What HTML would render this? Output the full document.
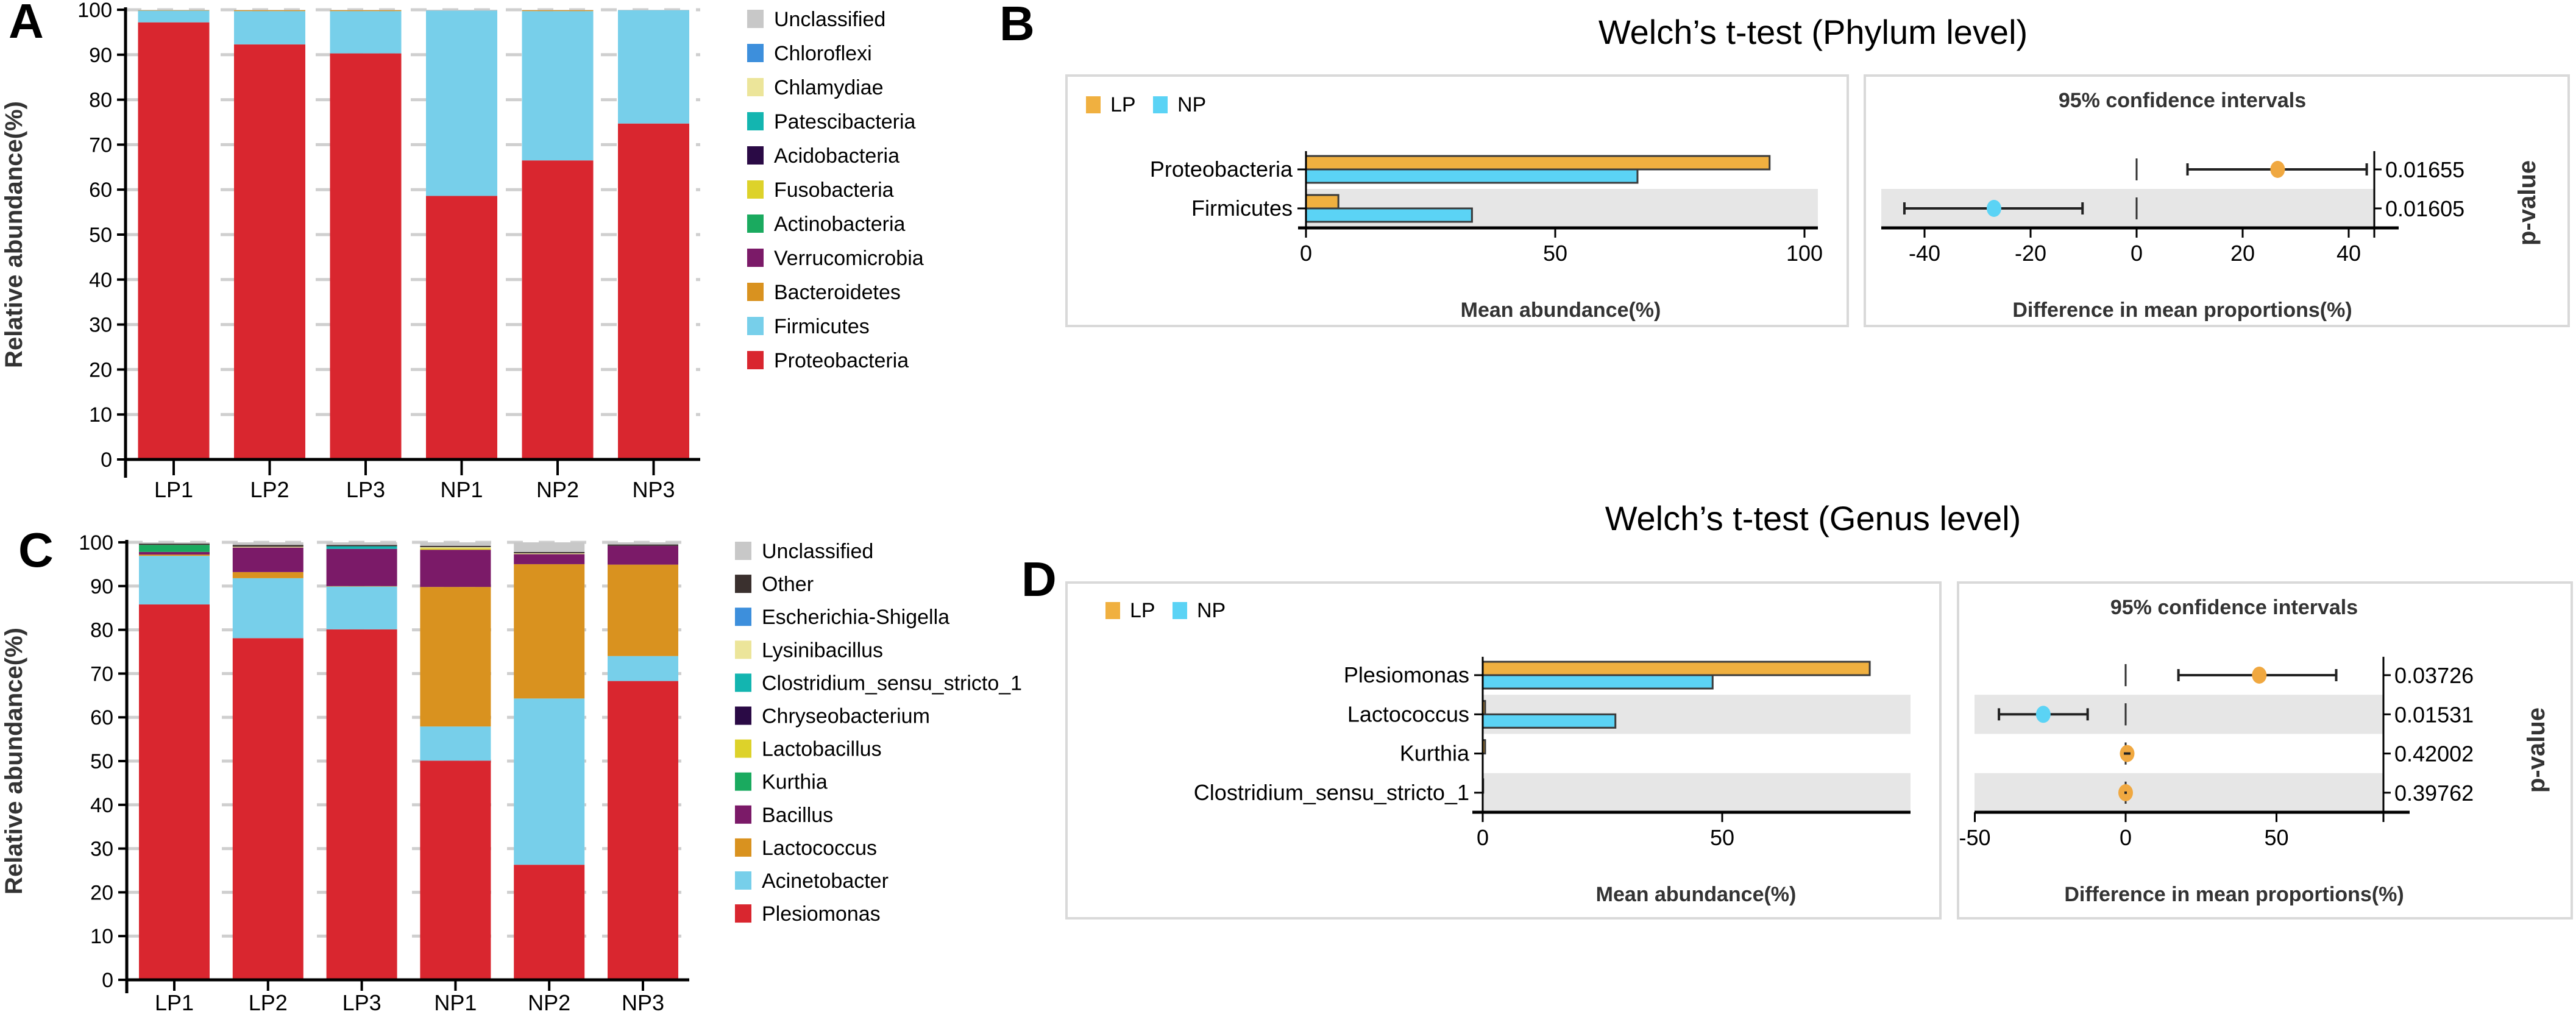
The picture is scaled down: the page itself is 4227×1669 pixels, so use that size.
<!DOCTYPE html>
<html><head><meta charset="utf-8">
<style>
html,body{margin:0;padding:0;background:#fff;}
svg{display:block;font-family:"Liberation Sans",Arial,sans-serif;}
</style></head>
<body>
<svg id="fig" width="4227" height="1669" viewBox="0 0 4227 1669" xmlns="http://www.w3.org/2000/svg">
<text x="14" y="62" font-size="80" font-weight="bold">A</text>
<text x="1640" y="66" font-size="80" font-weight="bold">B</text>
<text x="30" y="930" font-size="80" font-weight="bold">C</text>
<text x="1676" y="978" font-size="80" font-weight="bold">D</text>
<text x="2975" y="72" font-size="56" text-anchor="middle">Welch’s t-test (Phylum level)</text>
<text x="2975" y="870" font-size="56" text-anchor="middle">Welch’s t-test (Genus level)</text>
<g id="root"></g>
</svg>
<script>
// ---------- Panel A data ----------
const samplesA = ["LP1","LP2","LP3","NP1","NP2","NP3"];
const phylaA = ["Proteobacteria","Firmicutes","Bacteroidetes","Verrucomicrobia","Actinobacteria","Fusobacteria","Acidobacteria","Patescibacteria","Chlamydiae","Chloroflexi","Unclassified"];
const phylaColorsA = ["#d9262f","#77cfea","#d9921f","#7b1a68","#1aaa5f","#ddd22a","#2a0a45","#13b5b0","#ece59a","#3d8fdc","#c8c8c8"];
const valuesA = [
 [97.2,92.3,90.3,58.6,66.5,74.7],
 [2.6,7.4,9.4,41.2,33.2,25.2],
 [0.1,0.2,0.2,0,0.2,0],
 [0,0,0,0,0,0],[0,0,0,0,0,0],[0,0,0,0,0,0],[0,0,0,0,0,0],[0,0,0,0,0,0],[0,0,0,0,0,0],[0,0,0,0,0,0],
 [0.1,0.1,0.1,0.2,0.1,0.1]
];
// ---------- Panel C data ----------
const samplesC = ["LP1","LP2","LP3","NP1","NP2","NP3"];
const generaC = ["Plesiomonas","Acinetobacter","Lactococcus","Bacillus","Kurthia","Lactobacillus","Chryseobacterium","Clostridium_sensu_stricto_1","Lysinibacillus","Escherichia-Shigella","Other","Unclassified"];
const generaColorsC = ["#d9262f","#77cfea","#d9921f","#7b1a68","#1aaa5f","#ddd22a","#2a0a45","#13b5b0","#ece59a","#3d8fdc","#3a302e","#c8c8c8"];
const valuesC = [
 [85.8,78.1,80.1,50.1,26.3,68.3],
 [11.1,13.7,9.8,7.8,38.0,5.7],
 [0.3,1.4,0.1,31.9,30.7,20.9],
 [0.6,5.6,8.5,8.5,2.3,4.3],
 [1.6,0,0,0,0,0],
 [0,0,0,0.3,0,0],
 [0,0,0,0,0,0],
 [0,0,0.6,0,0,0],
 [0,0.2,0,0.3,0.2,0],
 [0,0,0,0,0,0],
 [0.3,0.4,0.3,0.3,0.3,0.3],
 [0.3,0.6,0.6,0.8,2.2,0.5]
];
const yTicks = [0,10,20,30,40,50,60,70,80,90,100];
// ---------- Panel B data ----------
const taxaB = ["Proteobacteria","Firmicutes"];
const lpMeanB = [93.0,6.5];
const npMeanB = [66.5,33.3];
const diffB = [26.6,-26.9];
const ciLowB = [9.6,-43.8];
const ciHighB = [43.4,-10.2];
const pB = ["0.01655","0.01605"];
const barTicksB = [0,50,100];
const diffTicksB = [-40,-20,0,20,40];
// ---------- Panel D data ----------
const taxaD = ["Plesiomonas","Lactococcus","Kurthia","Clostridium_sensu_stricto_1"];
const lpMeanD = [80.8,0.5,0.5,0.1];
const npMeanD = [48.0,27.7,0,0];
const diffD = [44.3,-27.3,0.5,0];
const ciLowD = [17.5,-42.0,-0.6,-0.4];
const ciHighD = [69.8,-12.6,1.6,0.4];
const pD = ["0.03726","0.01531","0.42002","0.39762"];
const barTicksD = [0,50];
const diffTicksD = [-50,0,50];

const NS="http://www.w3.org/2000/svg";
const root=document.getElementById('root');
function mk(tag,attrs,parent,text){const e=document.createElementNS(NS,tag);for(const k in attrs)e.setAttribute(k,attrs[k]);if(text!==undefined)e.textContent=text;(parent||root).appendChild(e);return e;}

function stacked(cfg){
  const g=mk('g',{});
  
  
  const y=v=>cfg.y0-(cfg.y0-cfg.y100)*v/100;
  const xc=i=>cfg.x0+cfg.step*i;
  yTicks.forEach(t=>{
    const l=mk('line',{x1:cfg.axisX,x2:cfg.axisEnd,y1:y(t),y2:y(t),stroke:'#cfcfcf','stroke-width':5,'stroke-dasharray':'26 26'},g);
    
    
  });
  cfg.samples.forEach((s,i)=>{
    let acc=0;
    cfg.values.forEach((ser,k)=>{
      const v=ser[i]; if(v<=0){return;}
      const r=mk('rect',{x:xc(i)-cfg.bw/2,y:y(acc+v),width:cfg.bw,height:y(acc)-y(acc+v),fill:cfg.colors[k]},g);
      
      
      acc+=v;
    });
    const tk=mk('line',{x1:xc(i),x2:xc(i),y1:cfg.y0,y2:cfg.y0+cfg.tickLen,stroke:'#000','stroke-width':4},g);
    
    
    const tl=mk('text',{x:xc(i),y:cfg.y0+cfg.labOff,'font-size':36,'text-anchor':'middle'},g,s);
    
    
  });
  mk('line',{x1:cfg.axisX,x2:cfg.axisX,y1:y(100)-4,y2:cfg.y0+cfg.tickLen+4,stroke:'#000','stroke-width':5},g);
  mk('line',{x1:cfg.axisX-2,x2:cfg.axisEnd,y1:cfg.y0,y2:cfg.y0,stroke:'#000','stroke-width':5},g);
  yTicks.forEach(t=>{
    mk('line',{x1:cfg.axisX-14,x2:cfg.axisX,y1:y(t),y2:y(t),stroke:'#000','stroke-width':4},g);
    const tl=mk('text',{x:cfg.axisX-22,y:y(t)+12,'font-size':34,'text-anchor':'end'},g,t);
    
    
  });
  const yt=mk('text',{x:0,y:0,'font-size':40,'font-weight':'bold','text-anchor':'middle',fill:'#333',transform:`translate(${cfg.titleX},${(cfg.y0+y(100))/2}) rotate(-90)`},g,'Relative abundance(%)');
  
  
  const n=cfg.labels.length;
  for(let j=0;j<n;j++){
    const k=n-1-j; const cy=cfg.legY+cfg.legStep*j;
    const sw=mk('rect',{x:cfg.legX,y:cy-15,width:27,height:30,fill:cfg.colors[k]},g);
    
    
    const lt=mk('text',{x:cfg.legX+44,y:cy+12,'font-size':34},g,cfg.labels[k]);
    
    
  }
}
stacked({name:'panel-a-stacked-chart',samples:samplesA,values:valuesA,colors:phylaColorsA,labels:phylaA,y0:754,y100:16,x0:285,step:157.5,bw:117,axisX:206,axisEnd:1149,titleX:36,legX:1226,legY:31,legStep:56,tickLen:26,labOff:62});
stacked({name:'panel-c-stacked-chart',samples:samplesC,values:valuesC,colors:generaColorsC,labels:generaC,y0:1608,y100:890,x0:286,step:153.8,bw:116,axisX:208,axisEnd:1131,titleX:36,legX:1206,legY:904,legStep:54.1,tickLen:18,labOff:50});

function ttest(cfg){
  const g=mk('g',{});
  
  
  [[cfg.lb],[cfg.rb]].forEach(([b])=>{
    const r=mk('rect',{x:b[0],y:cfg.boxTop,width:b[1]-b[0],height:cfg.boxBot-cfg.boxTop,fill:'none',stroke:'#d9d9d9','stroke-width':4},g);
    
    
  });
  const l1=mk('rect',{x:cfg.legX,y:cfg.legY,width:24,height:28,fill:'#f0b040'},g);
   
  const t1=mk('text',{x:cfg.legX+40,y:cfg.legY+25,'font-size':34},g,'LP');
   
  const l2=mk('rect',{x:cfg.legX+110,y:cfg.legY,width:24,height:28,fill:'#5bd3f5'},g);
   
  const t2=mk('text',{x:cfg.legX+150,y:cfg.legY+25,'font-size':34},g,'NP');
   
  const bx=v=>cfg.bx0+cfg.bpx*v;
  const dx=v=>cfg.dx0+cfg.dpx*v;
  const rowY=i=>cfg.row0+cfg.rowStep*i;
  const half=cfg.rowStep/2;
  cfg.taxa.forEach((t,i)=>{
    if(i%2===1){
      mk('rect',{x:cfg.bx0,y:rowY(i)-half,width:cfg.bandEndL-cfg.bx0,height:cfg.rowStep,fill:'#e6e6e6'},g);
      mk('rect',{x:cfg.dAxisL,y:rowY(i)-half,width:cfg.pAxisX-cfg.dAxisL,height:cfg.rowStep,fill:'#e6e6e6'},g);
    }
  });
  const axisY=rowY(cfg.taxa.length-1)+half;
  const topY=rowY(0)-half+2;
  cfg.taxa.forEach((t,i)=>{
    const cy=rowY(i);
    const bh=cfg.barH;
    const lp=mk('rect',{x:bx(0),y:cy-bh,width:bx(cfg.lp[i])-bx(0),height:bh,fill:'#f0b040',stroke:'#3a3a3a','stroke-width':3},g);
    
    
    if(cfg.np[i]>0){
      const np=mk('rect',{x:bx(0),y:cy,width:bx(cfg.np[i])-bx(0),height:bh,fill:'#5bd3f5',stroke:'#3a3a3a','stroke-width':3},g);
      
      
    }
    mk('line',{x1:bx(0)-14,x2:bx(0),y1:cy,y2:cy,stroke:'#000','stroke-width':3},g);
    const cl=mk('text',{x:bx(0)-22,y:cy+12,'font-size':36,'text-anchor':'end'},g,t);
    
    
    mk('line',{x1:dx(0),x2:dx(0),y1:cy-half+14,y2:cy+half-14,stroke:'#333','stroke-width':3},g);
    const ci=mk('line',{x1:dx(cfg.lo[i]),x2:dx(cfg.hi[i]),y1:cy,y2:cy,stroke:'#222','stroke-width':4},g);
    
    
    [cfg.lo[i],cfg.hi[i]].forEach(v=>mk('line',{x1:dx(v),x2:dx(v),y1:cy-10,y2:cy+10,stroke:'#222','stroke-width':4},g));
    const col=cfg.diff[i]>=0?'#f0a840':'#5bd3f5';
    const pt=mk('ellipse',{cx:dx(cfg.diff[i]),cy:cy,rx:12,ry:14,fill:col},g);
    
    
    if(Math.abs(cfg.hi[i]-cfg.lo[i])<3) mk('line',{x1:dx(cfg.lo[i]),x2:dx(cfg.hi[i]),y1:cy,y2:cy,stroke:'#222','stroke-width':4},g);
    mk('line',{x1:cfg.pAxisX,x2:cfg.pAxisX+12,y1:cy,y2:cy,stroke:'#000','stroke-width':3},g);
    const pl=mk('text',{x:cfg.pAxisX+18,y:cy+13,'font-size':36},g,cfg.p[i]);
    
    
  });
  mk('line',{x1:bx(0),x2:bx(0),y1:topY,y2:axisY+14,stroke:'#000','stroke-width':3},g);
  mk('line',{x1:cfg.bAxisL,x2:cfg.bandEndL,y1:axisY,y2:axisY,stroke:'#000','stroke-width':5},g);
  cfg.bTicks.forEach(t=>{
    mk('line',{x1:bx(t),x2:bx(t),y1:axisY,y2:axisY+16,stroke:'#000','stroke-width':3},g);
    const tl=mk('text',{x:bx(t),y:axisY+54,'font-size':36,'text-anchor':'middle'},g,t);
     
  });
  mk('line',{x1:cfg.dAxisL,x2:cfg.dAxisR,y1:axisY,y2:axisY,stroke:'#000','stroke-width':5},g);
  mk('line',{x1:cfg.pAxisX,x2:cfg.pAxisX,y1:topY,y2:axisY+16,stroke:'#000','stroke-width':3},g);
  cfg.dTicks.forEach(t=>{
    mk('line',{x1:dx(t),x2:dx(t),y1:axisY,y2:axisY+16,stroke:'#000','stroke-width':3},g);
    const tl=mk('text',{x:dx(t),y:axisY+54,'font-size':36,'text-anchor':'middle'},g,t);
     
  });
  const lcx=(cfg.lb[0]+cfg.lb[1])/2+cfg.lTitleShift, rcx=cfg.rTitleX;
  const a=mk('text',{x:lcx,y:cfg.xTitleY,'font-size':34,'font-weight':'bold','text-anchor':'middle',fill:'#333'},g,'Mean abundance(%)');
   
  const b=mk('text',{x:rcx,y:cfg.xTitleY,'font-size':34,'font-weight':'bold','text-anchor':'middle',fill:'#333'},g,'Difference in mean proportions(%)');
   
  const c=mk('text',{x:rcx,y:cfg.ciTitleY,'font-size':34,'font-weight':'bold','text-anchor':'middle',fill:'#333'},g,'95% confidence intervals');
   
  const p=mk('text',{x:0,y:0,'font-size':40,'font-weight':'bold','text-anchor':'middle',fill:'#333',transform:`translate(${cfg.pTitleX},${cfg.pTitleY}) rotate(-90)`},g,'p-value');
   
}
ttest({name:'panel-b-welch-phylum',taxa:taxaB,lp:lpMeanB,np:npMeanB,diff:diffB,lo:ciLowB,hi:ciHighB,p:pB,bTicks:barTicksB,dTicks:diffTicksB,
  lb:[1750,3032],rb:[3060,4215],boxTop:124,boxBot:535,legX:1782,legY:158,
  bx0:2143,bpx:8.18,dx0:3506,dpx:8.7,row0:278,rowStep:64,barH:22,bandEndL:2983,bAxisL:2130,dAxisL:3087,dAxisR:3936,pAxisX:3896,
  lTitleShift:170,rTitleX:3581,xTitleY:520,ciTitleY:176,pTitleX:4160,pTitleY:333});
ttest({name:'panel-d-welch-genus',taxa:taxaD,lp:lpMeanD,np:npMeanD,diff:diffD,lo:ciLowD,hi:ciHighD,p:pD,bTicks:barTicksD,dTicks:diffTicksD,
  lb:[1750,3184],rb:[3213,4220],boxTop:956,boxBot:1507,legX:1814,legY:988,
  bx0:2433,bpx:7.86,dx0:3488,dpx:4.95,row0:1108,rowStep:64.3,barH:22,bandEndL:3135,bAxisL:2416,dAxisL:3240,dAxisR:3954,pAxisX:3911,
  lTitleShift:316,rTitleX:3666,xTitleY:1479,ciTitleY:1008,pTitleX:4175,pTitleY:1231});
</script>
</body></html>
